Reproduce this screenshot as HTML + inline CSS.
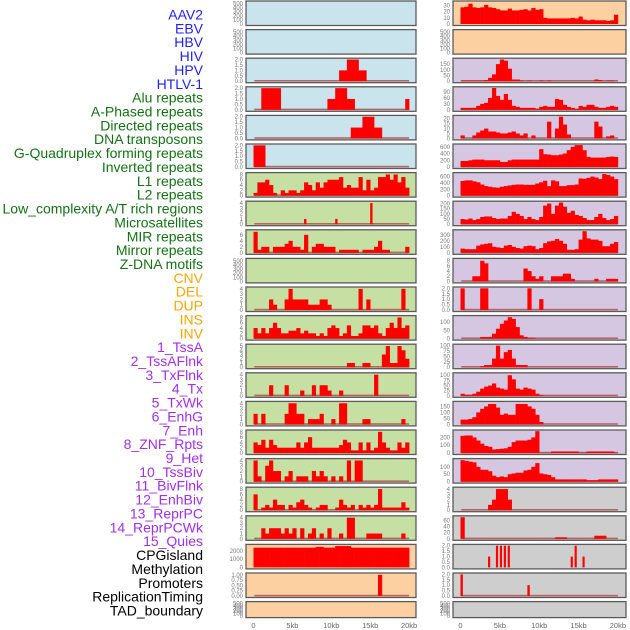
<!DOCTYPE html>
<html><head><meta charset="utf-8"><style>
html,body{margin:0;padding:0;background:#fff;width:630px;height:630px;overflow:hidden}
svg{display:block;font-family:"Liberation Sans",sans-serif}
</style></head><body>
<svg id="chart" width="630" height="630" viewBox="0 0 630 630" xmlns="http://www.w3.org/2000/svg"></svg>
<script>
// ---------- legend labels ----------
const legendLabels = ["AAV2","EBV","HBV","HIV","HPV","HTLV-1","Alu repeats","A-Phased repeats","Directed repeats","DNA transposons","G-Quadruplex forming repeats","Inverted repeats","L1 repeats","L2 repeats","Low_complexity A/T rich regions","Microsatellites","MIR repeats","Mirror repeats","Z-DNA motifs","CNV","DEL","DUP","INS","INV","1_TssA","2_TssAFlnk","3_TxFlnk","4_Tx","5_TxWk","6_EnhG","7_Enh","8_ZNF_Rpts","9_Het","10_TssBiv","11_BivFlnk","12_EnhBiv","13_ReprPC","14_ReprPCWk","15_Quies","CPGisland","Methylation","Promoters","ReplicationTiming","TAD_boundary"];
const legendGroups = [6,13,5,15,5];
const xTickValues = [0,5,10,15,20];
const xTickLabels = ["0","5kb","10kb","15kb","20kb"];

// ---------- left column data (40 bins of 0.5kb) ----------
const l00=[], l01=[];
const l02=[0,0,0,0,0,0,0,0,0,0,0,0,0,0,0,0,0,0,0,0,0,0,1,1,2,2,2,1,1,0,0,0,0,0,0,0,0,0,0,0];
const l03=[0,0,2,2,2,2,2,0,0,0,0,0,0,0,0,0,0,0,0,1,1,2,2,2,1,1,0,0,0,0,0,0,0,0,0,0,0,0,0,1];
const l04=[0,0,0,0,0,0,0,0,0,0,0,0,0,0,0,0,0,0,0,0,0,0,0,0,0,1,1,1,2,2,2,1,1,0,0,0,0,0,0,0];
const l05=[2,2,2,0,0,0,0,0,0,0,0,0,0,0,0,0,0,0,0,0,0,0,0,0,0,0,0,0,0,0,0,0,0,0,0,0,0,0,0,0];
const l06=[1,5,5,6,4,1,0,2,1,2,2,1,2,5,4,2,5,3,5,6,6,6,7,3,4,3,3,7,2,6,2,3,7,7,8,6,8,5,7,3];
const l07=[0,0,0,0,0,0,0,0,0,0,0,0,0,1,0,0,0,0,0,0,0,1,0,0,0,0,0,0,0,0,4,0,0,0,0,0,0,0,0,0];
const l08=[7,1,2,2,0,2,2,2,3,4,2,2,1,6,0,2,3,3,2,2,2,0,1,1,1,1,1,0,1,1,1,2,4,1,1,0,0,0,0,2];
const l09=[];
const l10=[0,0,0,0,2,1,0,0,2,4,2,2,2,2,1,1,1,2,2,1,0,0,0,0,0,0,0,4,0,2,0,0,0,0,0,0,0,0,4,0];
const l11=[4,2,4,2,4,6,4,2,2,3,3,4,2,3,2,2,1,2,1,4,5,4,1,2,5,1,1,2,5,5,4,5,2,1,4,6,4,8,4,5];
const l12=[0,0,0,0,0,0,0,0,0,0,0,0,0,0,0,0,0,0,0,0,0,0,0,0,1,1,0,0,1,1,0,0,0,3,5,1,1,5,4,2];
const l13=[0,0,0,0,2,0,0,0,2,0,0,0,1,0,0,2,0,2,2,1,0,0,1,0,0,0,0,0,0,0,0,4,0,0,0,0,0,0,0,0];
const l14=[2,0,2,0,0,0,0,0,2,4,4,2,2,0,1,1,1,2,0,0,1,0,4,4,0,0,0,0,1,1,0,0,0,0,0,0,0,0,1,0];
const l15=[4,3,5,2,5,3,2,2,2,2,2,4,2,4,6,2,2,2,2,2,2,2,3,5,4,1,1,4,1,4,1,2,8,4,2,1,1,4,2,4];
const l16=[4,1,0,3,4,2,2,0,1,2,0,1,1,1,0,2,1,2,1,0,1,0,1,0,4,0,4,4,0,0,0,0,0,0,0,0,0,0,0,0];
const l17=[6,0,1,2,1,4,2,2,0,2,1,3,4,2,1,0,1,2,2,0,0,1,4,2,1,2,0,2,1,2,1,2,8,1,1,1,1,1,3,1];
const l18=[0,0,2,1,2,2,2,1,2,1,2,0,2,0,1,2,0,1,0,2,0,0,1,0,4,4,0,0,0,1,1,1,1,0,0,0,0,0,1,0];
const l19=[2400,2400,2400,2400,2400,2400,2400,2400,2400,2400,2400,2400,2400,2400,2400,2400,2500,2500,2400,2400,2400,2600,2600,2600,2600,2400,2400,2400,2400,2400,2400,2400,2400,2400,2400,2400,2400,2400,2400,2400];
const l20=[0,0,0,0,0,0,0,0,0,0,0,0,0,0,0,0,0,0,0,0,0,0,0,0,0,0,0,0,0,0,0,0,1,0,0,0,0,0,0,0];
const l21=[];
const leftSeries=[l00,l01,l02,l03,l04,l05,l06,l07,l08,l09,l10,l11,l12,l13,l14,l15,l16,l17,l18,l19,l20,l21];
const T500=[0,100,200,300,400,500], T2=[0,0.5,1,1.5,2], T4=[0,1,2,3,4], T8=[0,2,4,6,8];
const leftTicks=[T500,T500,T2,T2,T2,T2,T8,T4,[0,2,4,6],T500,T4,T8,[0,1,2,3,4,5],T4,T4,T8,T4,T8,T4,[0,1000,2000],[0,0.25,0.5,0.75,1],T500];
const leftYmax=[540,540,2.05,2.05,2.05,2.05,8.4,4.2,7.4,540,4.2,8.4,5.25,4.2,4.2,8.4,4.2,8.4,4.2,2700,1.05,540];
const leftBg=["#c9e4ec","#c9e4ec","#c9e4ec","#c9e4ec","#c9e4ec","#c9e4ec","#c6e0a4","#c6e0a4","#c6e0a4","#c6e0a4","#c6e0a4","#c6e0a4","#c6e0a4","#c6e0a4","#c6e0a4","#c6e0a4","#c6e0a4","#c6e0a4","#c6e0a4","#fdd0a2","#fdd0a2","#fdd0a2"];
const leftBarFrac=[1,1,1,1,1,1,1,0.6,1,1,1,1,1,1,1,1,1,1,1,1,1,1];

// ---------- right column data ----------
const r00=[27,28,33,27,26,27,31,27,26,24,22,22,25,22,22,23,24,22,26,23,24,10,9,9,9,9,9,9,10,9,12,7,6,7,6,6,6,5,6,15];
const r01=[];
const r02=[5,5,5,5,5,5,10,30,60,150,190,180,110,15,15,5,0,5,0,0,5,0,5,0,0,0,0,0,0,0,0,0,0,0,15,10,0,5,5,0];
const r03=[10,10,10,10,20,30,35,60,110,70,50,80,50,20,15,10,10,10,10,5,15,20,15,15,55,50,25,15,10,5,20,15,25,25,15,10,10,15,20,15];
const r04=[3,0,0,3,6,8,10,7,7,6,5,5,6,7,5,3,5,0,3,0,0,0,17,0,10,22,14,4,0,0,0,0,0,0,17,12,0,2,3,0];
const r05=[180,180,200,220,220,220,200,200,200,200,150,150,200,220,220,220,220,220,220,220,530,380,370,350,350,370,400,500,600,650,650,500,300,280,280,280,280,300,310,300];
const r06=[460,480,480,450,420,350,300,280,260,250,280,300,320,340,350,350,340,340,340,380,420,470,300,480,450,300,300,330,330,350,540,530,560,600,570,520,680,650,600,520];
const r07=[50,45,55,40,50,70,75,75,60,50,55,55,80,120,100,80,50,70,50,40,70,180,200,100,180,210,170,110,130,90,80,60,40,40,70,100,60,40,50,80];
const r08=[70,60,60,60,120,140,150,160,100,90,80,120,130,100,80,70,110,120,110,60,80,160,190,200,230,200,150,50,50,60,220,360,240,220,220,200,110,110,150,180];
const r09=[0,0,0,2,2,8,7,0,0,0,0,0,0,0,0,0,5,4,2,1,2,0,0,2,2,2,3,3,1,0,0,0,0,0,1,0,0,1,1,1];
const r10=[2,0,0,0,0,2,2,0,0,0,0,0,0,0,0,0,0,2,0,0,1,0,0,0,0,0,0,0,0,0,0,0,0,0,0,0,0,0,0,0];
const r11=[0,0,0,0,0,10,10,10,30,60,90,110,130,120,70,20,10,5,5,0,0,0,0,0,0,0,0,0,0,0,0,0,0,0,0,0,0,0,0,0];
const r12=[0,0,0,0,0,5,10,10,40,100,40,70,80,40,10,10,10,0,0,0,0,0,0,0,0,0,0,0,0,0,0,0,0,0,0,0,0,0,0,0];
const r13=[10,5,5,10,20,35,45,50,60,40,35,30,100,80,35,30,40,35,30,10,3,0,0,0,0,0,0,0,0,0,0,0,0,0,0,0,0,0,0,0];
const r14=[40,40,45,60,100,130,150,170,170,140,80,90,80,80,170,170,170,150,130,80,20,0,0,0,0,0,0,0,0,0,0,0,0,0,0,0,0,0,0,0];
const r15=[220,225,225,200,160,120,90,80,45,50,55,60,80,140,160,160,160,170,200,280,3,3,3,20,20,20,20,20,20,20,5,5,20,20,20,20,20,20,20,5];
const r16=[145,140,135,130,100,80,80,70,40,30,35,30,50,55,60,60,75,80,100,125,55,50,45,30,15,15,15,15,15,15,15,15,10,10,10,15,15,15,15,15];
const r17=[0,0,0,0,0,0,0,1,2,4,4,4,2,0,0,0,0,0,0,0,0,0,0,0,0,0,0,0,0,0,0,0,0,0,0,0,0,0,0,0];
const r18=[70,0,0,0,0,0,0,0,0,0,0,0,0,0,0,0,0,0,0,0,0,0,0,0,5,5,5,0,0,0,0,0,0,0,10,10,10,0,0,0];
const r19=[0,0,0,0,0,0,0,1,0,2,2,2,2,0,0,0,0,0,0,0,0,0,0,0,0,0,0,0,1,2,0,1,0,0,0,0,0,0,0,0];
const r20=[2,0,0,0,0,0,0,0,0,0,0,0,0,0,0,0,0,1,0,0,0,0,0,0,0,0,0,0,0,0,0,0,0,0,0,0,0,0,0,0];
const r21=[];
const rightSeries=[r00,r01,r02,r03,r04,r05,r06,r07,r08,r09,r10,r11,r12,r13,r14,r15,r16,r17,r18,r19,r20,r21];
const rightTicks=[[0,10,20,30],T500,[0,50,100,150],[0,30,60,90],[0,5,10,15,20],[0,200,400,600],[0,200,400,600],[0,50,100,150,200],[0,100,200,300],T8,T2,[0,50,100],[0,25,50,75,100],[0,25,50,75,100],[0,50,100,150],[0,100,200],[0,50,100],T4,[0,20,40,60],T2,T2,T500];
const rightYmax=[36,540,195,112,22.5,660,700,215,370,8.6,2.05,135,103,108,185,285,150,4.2,72,2.05,2.05,540];
const LAV="#d5c7e2", GRY="#cecece", PCH="#fdd0a2";
const rightBg=[PCH,PCH,LAV,LAV,LAV,LAV,LAV,LAV,LAV,LAV,LAV,LAV,LAV,LAV,LAV,LAV,LAV,GRY,GRY,GRY,GRY,GRY];
const rightBarFrac=[1,1,1,1,1,1,1,1,1,1,1,1,1,1,1,1,1,1,1,0.55,0.6,1];

// ---------- drawing ----------
const NS="http://www.w3.org/2000/svg";
const svg=document.getElementById("chart");
function el(tag,attrs,parent){const e=document.createElementNS(NS,tag);for(const k in attrs)e.setAttribute(k,attrs[k]);(parent||svg).appendChild(e);return e;}

const legendColors=["#1f1fff","#137313","#ffa500","#a22ef0","#000000"];
let gi=0, cnt=0;
legendLabels.forEach((lab,i)=>{
  while(cnt>=legendGroups[gi]){cnt=0;gi++;}
  cnt++;
  const t=el("text",{x:203,y:19.5+13.86*i,"text-anchor":"end","font-size":"14",fill:legendColors[gi]});
  
  
  t.textContent=lab;
});

const BIN=0.5;
const columns=[
  {series:leftSeries,ticks:leftTicks,ymax:leftYmax,bg:leftBg,frac:leftBarFrac,px:246,pw:170,x0:253.5,k:7.78,name:"left"},
  {series:rightSeries,ticks:rightTicks,ymax:rightYmax,bg:rightBg,frac:rightBarFrac,px:453,pw:173,x0:460.5,k:7.87,name:"right"}
];
function fmt(v,ticks){
  const dec=ticks.some(t=>(t*2)%1!==0)?2:(ticks.some(t=>t%1!==0)?1:0);
  return v.toFixed(dec);
}
columns.forEach(col=>{
  const xs=kb=>col.x0+kb*col.k;
  col.series.forEach((vals,i)=>{
    const top=1+28.6*i, h=(i===21)?16:24.5;
    const g=el("g",{});
    
    
    const bg=el("rect",{x:col.px,y:top,width:col.pw,height:h,fill:col.bg[i]},g);
    
    
    const yb=top+h-1.5, yt=top+0.8, ym=col.ymax[i];
    const ys=v=>yb-v/ym*(yb-yt);
    if(vals.length && i!==19 && !(col.name==="right"&&i===0)){
      const base=el("rect",{x:xs(0.1),y:yb-1.2,width:xs(20)-xs(0.1),height:1.6,fill:"#b04848",opacity:0.8},g);
      
      
    }
    const bw=(xs(BIN)-xs(0))*col.frac[i]+(col.frac[i]===1?0.3:0);
    vals.forEach((v,b)=>{
      if(!v) return;
      const r=el("rect",{x:xs(b*BIN),y:ys(v),width:bw,height:yb-ys(v),fill:"#ff0000"},g);
      
      
    });
    const bd=el("rect",{x:col.px,y:top,width:col.pw,height:h,fill:"none",stroke:"#5a5a5a","stroke-width":1.3},g);
    
    
    col.ticks[i].forEach(tv=>{
      const t=el("text",{x:col.px-3,y:ys(tv)+2,"text-anchor":"end","font-size":"6",fill:"#777"},g);
      
      
      t.textContent=fmt(tv,col.ticks[i]);
    });
  });
  xTickValues.forEach((v,j)=>{
    const t=el("text",{x:xs(v),y:628,"text-anchor":"middle","font-size":"7.5",fill:"#666"});
    
    
    t.textContent=xTickLabels[j];
  });
});
</script>
</body></html>
